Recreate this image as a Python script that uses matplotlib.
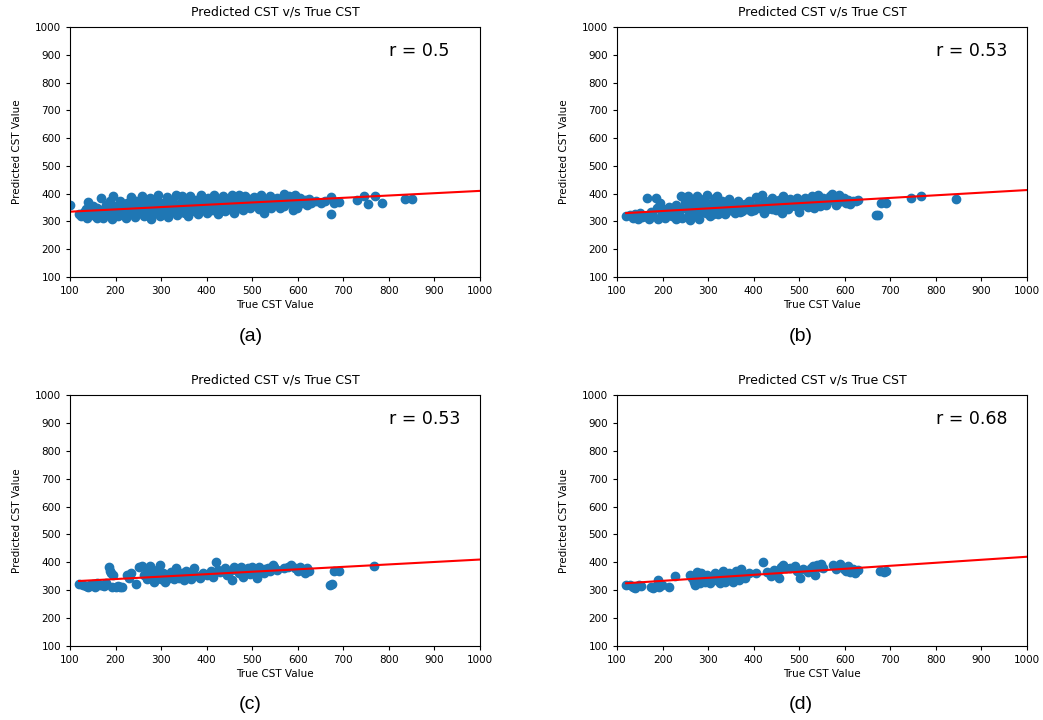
import numpy as np
import matplotlib
matplotlib.use("Agg")
import matplotlib.pyplot as plt

# true / predicted CST values for the four models
true_a = [100, 125, 130, 138, 140, 145, 150, 155, 160, 165, 168, 172, 175, 180, 185, 188, 192, 195, 198, 200,
          205, 210, 212, 218, 222, 225, 230, 235, 238, 242, 246, 250, 255, 258, 262, 266, 270, 275, 278, 282,
          286, 290, 294, 298, 300, 304, 308, 312, 316, 320, 324, 328, 332, 336, 340, 344, 348, 352, 356, 360,
          364, 368, 372, 376, 380, 384, 388, 392, 396, 400, 404, 408, 412, 416, 420, 424, 428, 432, 436, 440,
          444, 448, 452, 456, 460, 464, 468, 472, 476, 480, 484, 488, 492, 496, 500, 505, 510, 515, 520, 525,
          530, 535, 540, 545, 550, 555, 560, 565, 570, 575, 580, 585, 590, 595, 600, 605, 610, 615, 620, 625,
          630, 640, 650, 660, 672, 672, 680, 690, 730, 745, 755, 770, 785, 835, 850,
          215, 245, 268, 292, 318, 346, 374, 402, 430, 458, 486, 514, 542, 570, 598, 620, 235, 265, 315, 345,
          375, 410, 440, 470, 505, 530, 180, 150, 120, 135, 160, 190, 210, 225, 260, 285, 310, 330, 355, 380,
          395, 425, 455, 480, 520, 550, 580, 600, 525, 590]
pred_a = [358, 320, 335, 312, 370, 325, 340, 318, 350, 330, 385, 312, 345, 360, 325, 375, 310, 393, 340, 355,
          318, 372, 335, 350, 312, 365, 328, 388, 345, 315, 375, 332, 355, 392, 318, 368, 340, 385, 310, 352,
          330, 372, 395, 318, 345, 365, 332, 388, 315, 355, 375, 340, 395, 322, 362, 348, 385, 330, 370, 318,
          392, 352, 338, 378, 325, 360, 395, 345, 372, 330, 385, 355, 340, 395, 368, 328, 380, 350, 392, 338,
          365, 378, 345, 395, 332, 360, 385, 350, 372, 340, 392, 362, 380, 348, 370, 388, 355, 375, 395, 345,
          365, 382, 392, 358, 372, 385, 350, 378, 398, 368, 390, 380, 360, 395, 372, 385, 365, 378, 370, 382,
          368, 372, 365, 375, 388, 325, 368, 370, 378, 392, 362, 390, 368, 380, 380,
          325, 340, 322, 338, 330, 335, 345, 348, 338, 348, 355, 345, 350, 355, 350, 358, 360, 378, 375, 390,
          362, 372, 385, 395, 360, 378, 330, 355, 325, 345, 312, 345, 330, 345, 350, 365, 350, 358, 345, 350,
          358, 360, 370, 362, 362, 362, 372, 385, 330, 340]

true_b = [120, 128, 135, 140, 145, 150, 155, 160, 165, 170, 175, 180, 185, 188, 190, 195, 198, 200, 205, 210,
          215, 220, 225, 230, 235, 240, 242, 245, 250, 255, 258, 262, 265, 268, 272, 275, 278, 282, 285, 290,
          295, 298, 300, 305, 308, 312, 316, 320, 322, 326, 330, 335, 338, 342, 346, 350, 355, 360, 365, 370,
          375, 380, 385, 390, 395, 400, 405, 410, 414, 418, 422, 425, 430, 435, 440, 445, 450, 455, 460, 462,
          465, 470, 475, 480, 485, 490, 495, 500, 502, 508, 512, 518, 522, 528, 532, 538, 542, 548, 552, 558,
          562, 568, 572, 578, 582, 588, 592, 598, 602, 608, 612, 618, 625, 630,
          668, 672, 680, 690, 745, 768, 845,
          230, 260, 280, 310, 340, 370, 395, 440, 470, 520, 545, 580]
pred_b = [318, 322, 312, 325, 308, 330, 315, 320, 385, 310, 335, 318, 385, 350, 308, 365, 330, 345, 312, 325,
          352, 318, 338, 360, 328, 392, 312, 348, 370, 392, 332, 355, 318, 378, 340, 392, 325, 362, 345, 380,
          330, 395, 352, 318, 368, 340, 385, 392, 328, 358, 372, 345, 325, 365, 382, 340, 358, 330, 372, 350,
          338, 362, 345, 375, 355, 340, 388, 362, 350, 395, 330, 372, 345, 358, 385, 365, 340, 378, 350, 330,
          390, 362, 345, 380, 368, 355, 385, 335, 370, 358, 385, 372, 362, 390, 350, 378, 395, 368, 385, 360,
          375, 390, 400, 382, 368, 395, 372, 385, 365, 378, 362, 375, 372, 378,
          322, 322, 368, 368, 385, 390, 380,
          310, 305, 310, 325, 335, 335, 338, 345, 350, 352, 355, 360]

true_c = [120, 128, 135, 140, 145, 150, 155, 160, 165, 170, 175, 180, 185, 188, 190, 192, 195, 200, 205, 210,
          215, 225, 230, 235, 245, 252, 258, 262, 268, 272, 275, 278, 282, 285, 290, 295, 298, 300, 305, 308,
          312, 318, 322, 328, 332, 335, 340, 345, 350, 355, 360, 365, 370, 372, 380, 385, 392, 400, 410, 415,
          420, 425, 430, 440, 445, 450, 455, 460, 465, 470, 475, 480, 485, 490, 495, 500, 505, 510, 515, 520,
          525, 528, 535, 540, 545, 548, 555, 570, 578, 585, 595, 600, 605, 610, 615, 620, 625,
          670, 675, 680, 690, 768]
pred_c = [322, 320, 315, 310, 318, 322, 312, 325, 318, 320, 315, 325, 385, 370, 362, 310, 355, 310, 315, 312,
          312, 355, 345, 360, 322, 385, 388, 355, 340, 368, 388, 345, 360, 330, 372, 348, 390, 340, 360, 330,
          355, 345, 365, 340, 380, 352, 345, 362, 335, 370, 348, 340, 358, 378, 352, 345, 362, 355, 368, 348,
          400, 372, 365, 380, 355, 365, 335, 385, 372, 362, 382, 348, 368, 378, 358, 385, 372, 345, 385, 368,
          360, 375, 380, 370, 390, 382, 372, 378, 385, 392, 378, 370, 385, 372, 362, 378, 370,
          320, 322, 368, 368, 388]

true_d = [120, 128, 135, 140, 148, 152, 175, 180, 185, 190, 192, 198, 215, 228, 260, 265, 268, 272, 275, 278,
          282, 285, 290, 292, 298, 300, 305, 310, 315, 318, 322, 326, 330, 332, 336, 340, 345, 348, 352, 355,
          358, 362, 365, 368, 372, 375, 380, 390, 405, 420, 430, 438, 445, 452, 455, 460, 465, 470, 480, 490,
          495, 502, 508, 520, 525, 530, 535, 540, 545, 548, 552, 575, 580, 585, 590, 598, 602, 608, 612, 618,
          622, 628, 678, 685, 690]
pred_d = [320, 318, 312, 308, 320, 315, 312, 308, 316, 335, 310, 318, 310, 350, 355, 345, 330, 320, 365, 340,
          325, 360, 350, 330, 355, 338, 325, 348, 360, 335, 340, 325, 352, 370, 330, 345, 362, 335, 340, 328,
          352, 368, 345, 335, 375, 350, 345, 360, 360, 400, 365, 350, 372, 355, 345, 385, 392, 378, 380, 388,
          370, 342, 375, 365, 380, 388, 355, 392, 385, 395, 380, 390, 375, 388, 395, 375, 368, 388, 365, 375,
          360, 372, 368, 365, 368]

# fitted line (slope, intercept) and correlation for each panel
fits = [(0.0833, 326.7), (0.0943, 318.7), (0.0875, 322.5), (0.108, 312.0)]
r_vals = [0.5, 0.53, 0.53, 0.68]
panel_tags = ["(a)", "(b)", "(c)", "(d)"]

fig = plt.figure(figsize=(10.43, 7.2), dpi=100)
rects = [[0.0671, 0.6153, 0.3931, 0.3472],
         [0.5916, 0.6153, 0.3931, 0.3472],
         [0.0671, 0.1028, 0.3931, 0.3486],
         [0.5916, 0.1028, 0.3931, 0.3486]]
tag_pos = [(0.240, 0.533), (0.768, 0.533), (0.240, 0.021), (0.768, 0.021)]

data = [(true_a, pred_a), (true_b, pred_b), (true_c, pred_c), (true_d, pred_d)]
for i, (xt, yp) in enumerate(data):
    ax = fig.add_axes(rects[i])
    ax.scatter(xt, yp, color="#1f77b4")
    m, b = fits[i]
    lx = np.array([min(xt), 1000])
    ax.plot(lx, m * lx + b, color="red", lw=1.5)
    ax.set_xlim(100, 1000)
    ax.set_ylim(100, 1000)
    ax.set_xticks(np.arange(100, 1001, 100))
    ax.set_yticks(np.arange(100, 1001, 100))
    ax.tick_params(labelsize=7.5, length=3)
    ax.set_title("Predicted CST v/s True CST", fontsize=9, pad=8)
    ax.set_xlabel("True CST Value", fontsize=7.5, labelpad=3)
    ax.set_ylabel("Predicted CST Value", fontsize=7.5, labelpad=9)
    ax.text(0.777, 0.905, "r = %s" % r_vals[i], transform=ax.transAxes,
            fontsize=12.5, va="center")
    fig.text(tag_pos[i][0], tag_pos[i][1], panel_tags[i], fontsize=14,
             family="Liberation Sans", ha="center", va="center")

fig.savefig("out.png", dpi=100)
